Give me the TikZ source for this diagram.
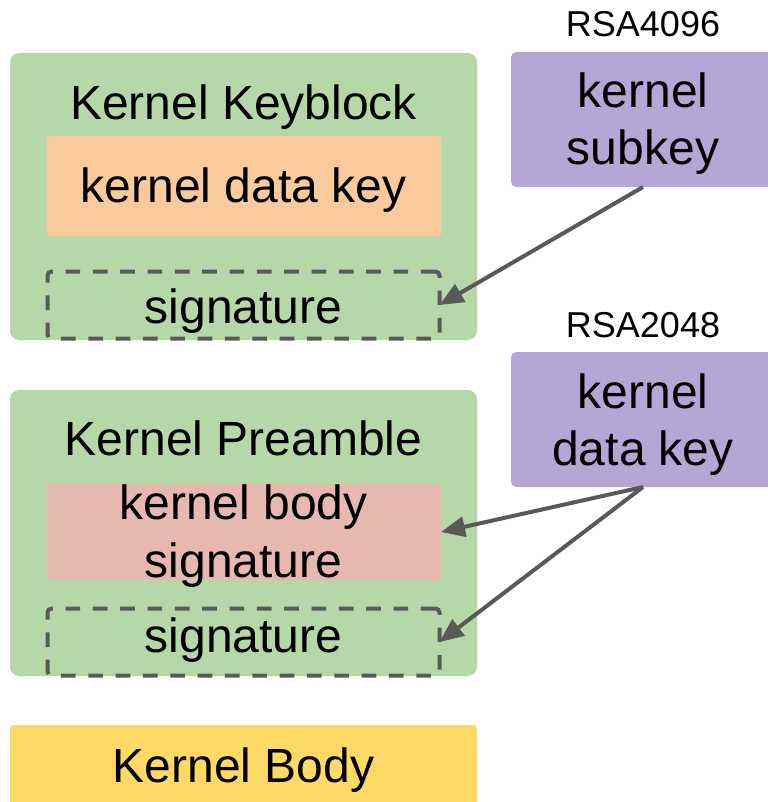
\documentclass[tikz,border=0pt]{standalone}
\usepackage{fontspec}
\setmainfont{Liberation Sans}
\usetikzlibrary{arrows.meta}
\definecolor{panelgreen}{HTML}{B6D7A8}
\definecolor{keyorange}{HTML}{F9CB9C}
\definecolor{sigpink}{HTML}{E6B8AF}
\definecolor{keypurple}{HTML}{B4A7D6}
\definecolor{bodyyellow}{HTML}{FFD966}
\definecolor{linkgrey}{HTML}{595959}
\begin{document}
\begin{tikzpicture}[x=0.75pt,y=-0.75pt,
  box/.style={anchor=north west, inner sep=0pt, outer sep=0pt, draw=none},
  panel/.style={box, fill=panelgreen, rounded corners=7pt, minimum width=350.25pt, minimum height=#1},
  inset/.style={box, fill=#1, rounded corners=2pt, minimum width=295.5pt},
  sigbox/.style={box, draw=linkgrey, line width=3pt, dash pattern=on 11pt off 9.5pt,
    rounded corners=3pt, minimum width=294pt, minimum height=50.25pt},
  keybox/.style={box, fill=keypurple, rounded corners=4pt, minimum width=198pt, minimum height=101.25pt},
  lbl/.style={anchor=base, inner sep=0pt, font=\fontsize{36}{43}\selectfont},
  bits/.style={anchor=base, inner sep=0pt, font=\fontsize{27}{32}\selectfont},
  link/.style={draw=linkgrey, line width=3pt, -{Triangle[length=18pt,width=15pt]}}
]
\useasboundingbox (0,0) rectangle (767,802);

% Kernel keyblock
\node[panel=215.25pt] (kkb) at (10,53) {};
\node[inset=keyorange, minimum height=75pt] (kdk) at (47,136) {};
\node[sigbox] (sig1) at (47.5,271.5) {};
\node[lbl] (kkbt) at (243.5,120) {Kernel Keyblock};
\node[lbl] (kdkt) at (243.5,203) {kernel data key};
\node[lbl] (sig1t) at (243.5,323) {signature};

% Kernel preamble
\node[panel=214.5pt] (kpr) at (10,390) {};
\node[inset=sigpink, minimum height=72pt] (kbs) at (47,484) {};
\node[sigbox] (sig2) at (47.5,608.5) {};
\node[lbl] (kprt) at (243.5,455) {Kernel Preamble};
\node[lbl] (kbs1) at (243.5,519) {kernel body};
\node[lbl] (kbs2) at (243.5,577) {signature};
\node[lbl] (sig2t) at (243.5,652) {signature};

% Kernel body
\node[panel=66pt, fill=bodyyellow, rounded corners=3pt] (kbody) at (10,725) {};
\node[lbl] (kbodyt) at (243.5,782) {Kernel Body};

% Signing keys
\node[bits] (rsa4) at (643,37) {RSA4096};
\node[keybox] (sub) at (511,52) {};
\node[lbl] (sub1) at (643,108) {kernel};
\node[lbl] (sub2) at (643,165) {subkey};

\node[bits] (rsa2) at (643,337) {RSA2048};
\node[keybox] (dkey) at (511,352) {};
\node[lbl] (dkey1) at (643,408) {kernel};
\node[lbl] (dkey2) at (643,465) {data key};

% Signing relations
\draw[link] (sub.south) -- (sig1.east);
\draw[link] (dkey.south) -- (kbs.east);
\draw[link] (dkey.south) -- (sig2.east);
\end{tikzpicture}
\end{document}
